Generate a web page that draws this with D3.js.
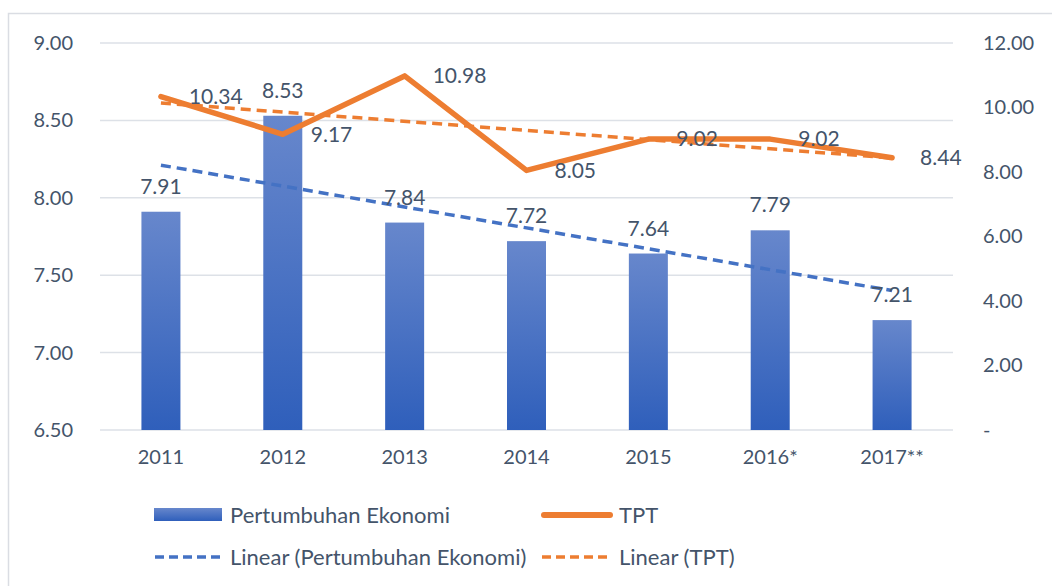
<!DOCTYPE html>
<html>
<head>
<meta charset="utf-8">
<script src="https://cdn.jsdelivr.net/npm/d3@7"></script>
<style>
  body { margin: 0; background: #fff; }
  text { font-family: Lato, "Open Sans", sans-serif; fill: #44546a; }
</style>
</head>
<body>
<div id="chart"></div>
<script>
// data
var years = ['2011', '2012', '2013', '2014', '2015', '2016*', '2017**'];
var ekonomi = [7.91, 8.53, 7.84, 7.72, 7.64, 7.79, 7.21];
var tpt = [10.34, 9.17, 10.98, 8.05, 9.02, 9.02, 8.44];
var leftTicks = [6.5, 7.0, 7.5, 8.0, 8.5, 9.0];
var rightTicks = [0, 2, 4, 6, 8, 10, 12];

var svgWidth = 1052;
var svgHeight = 586;
var margin = { top: 43, right: 99, bottom: 156, left: 100 };
var width = svgWidth - margin.left - margin.right;
var height = svgHeight - margin.top - margin.bottom;

var blue = '#4472c4';
var orange = '#ed7d31';

var svg = d3.select('#chart')
  .append('svg')
  .attr('width', svgWidth)
  .attr('height', svgHeight);

// chart area border
svg.append('rect')
  .attr('x', 8.5).attr('y', 13.5)
  .attr('width', svgWidth + 20).attr('height', svgHeight + 20)
  .attr('fill', 'none')
  .attr('stroke', '#dadde3')
  .attr('stroke-width', 1.5);

var defs = svg.append('defs');
var grad = defs.append('linearGradient')
  .attr('id', 'barGrad')
  .attr('x1', 0).attr('y1', 0).attr('x2', 0).attr('y2', 1);
grad.append('stop').attr('offset', '0%').attr('stop-color', '#6787cc');
grad.append('stop').attr('offset', '100%').attr('stop-color', '#2f5fbb');

var chartGroup = svg.append('g')
  .attr('transform', `translate(${margin.left}, ${margin.top})`);

var x = d3.scaleBand()
  .domain(years)
  .range([0, width]);

var yLeft = d3.scaleLinear()
  .domain([6.5, 9])
  .range([height, 0]);

var yRight = d3.scaleLinear()
  .domain([0, 12])
  .range([height, 0]);

// gridlines
chartGroup.append('g')
  .selectAll('line')
  .data(leftTicks)
  .enter()
  .append('line')
  .attr('x1', 0).attr('x2', width)
  .attr('y1', d => yLeft(d)).attr('y2', d => yLeft(d))
  .attr('stroke', '#dde1e7')
  .attr('stroke-width', 1.5);

// axes (lines hidden, Excel style)
var leftAxis = d3.axisLeft(yLeft).tickValues(leftTicks).tickSize(0).tickPadding(27)
  .tickFormat(d3.format('.2f'));
var rightAxis = d3.axisRight(yRight).tickValues(rightTicks).tickSize(0).tickPadding(30)
  .tickFormat(d => d === 0 ? '-' : d3.format('.2f')(d));
var bottomAxis = d3.axisBottom(x).tickSize(0).tickPadding(20);

var gl = chartGroup.append('g').call(leftAxis);
var gr = chartGroup.append('g').attr('transform', `translate(${width}, 0)`).call(rightAxis);
var gb = chartGroup.append('g').attr('transform', `translate(0, ${height})`).call(bottomAxis);
[gl, gr, gb].forEach(function(g) {
  g.select('.domain').remove();
  g.selectAll('text')
    .style('font-family', 'Lato, sans-serif')
    .style('font-size', '20px')
    .style('fill', '#44546a');
});

// bars
var barW = 39;
chartGroup.selectAll('.bar')
  .data(ekonomi)
  .enter()
  .append('rect')
  .attr('class', 'bar')
  .attr('x', (d, i) => x(years[i]) + x.bandwidth() / 2 - barW / 2)
  .attr('y', d => yLeft(d))
  .attr('width', barW)
  .attr('height', d => height - yLeft(d))
  .attr('fill', 'url(#barGrad)');

// linear trend (least squares, as Excel does)
function trend(vals) {
  var n = vals.length;
  var xs = d3.range(1, n + 1);
  var mx = d3.mean(xs), my = d3.mean(vals);
  var sxy = d3.sum(xs, (v, i) => (v - mx) * (vals[i] - my));
  var sxx = d3.sum(xs, v => (v - mx) * (v - mx));
  var b = sxy / sxx, a = my - b * mx;
  return [a + b * 1, a + b * n];
}
var cx = i => x(years[i]) + x.bandwidth() / 2;

var tE = trend(ekonomi);
chartGroup.append('line')
  .attr('x1', cx(0)).attr('x2', cx(years.length - 1))
  .attr('y1', yLeft(tE[0])).attr('y2', yLeft(tE[1]))
  .attr('stroke', blue)
  .attr('stroke-width', 3.5)
  .attr('stroke-dasharray', '10,6');

var tT = trend(tpt);
chartGroup.append('line')
  .attr('x1', cx(0)).attr('x2', cx(years.length - 1))
  .attr('y1', yRight(tT[0])).attr('y2', yRight(tT[1]))
  .attr('stroke', orange)
  .attr('stroke-width', 3.5)
  .attr('stroke-dasharray', '10,6');

// TPT line
var line = d3.line()
  .x((d, i) => cx(i))
  .y(d => yRight(d));
chartGroup.append('path')
  .datum(tpt)
  .attr('d', line)
  .attr('fill', 'none')
  .attr('stroke', orange)
  .attr('stroke-width', 5.5)
  .attr('stroke-linejoin', 'round')
  .attr('stroke-linecap', 'round');

// labels
chartGroup.selectAll('.barLabel')
  .data(ekonomi)
  .enter()
  .append('text')
  .attr('x', (d, i) => cx(i))
  .attr('y', d => yLeft(d) - 18)
  .attr('text-anchor', 'middle')
  .attr('font-size', '21px')
  .text(d => d3.format('.2f')(d));

chartGroup.selectAll('.tptLabel')
  .data(tpt)
  .enter()
  .append('text')
  .attr('x', (d, i) => cx(i) + 28)
  .attr('y', d => yRight(d))
  .attr('dy', '0.35em')
  .attr('font-size', '21px')
  .text(d => d3.format('.2f')(d));

// legend
var leg = svg.append('g');
leg.append('rect')
  .attr('x', 154).attr('y', 508).attr('width', 68).attr('height', 13)
  .attr('fill', 'url(#barGrad)');
leg.append('text').attr('x', 230).attr('y', 515).attr('dy', '0.35em')
  .attr('font-size', '22px').text('Pertumbuhan Ekonomi');
leg.append('line')
  .attr('x1', 544).attr('x2', 610).attr('y1', 515).attr('y2', 515)
  .attr('stroke', orange).attr('stroke-width', 6).attr('stroke-linecap', 'round');
leg.append('text').attr('x', 619).attr('y', 515).attr('dy', '0.35em')
  .attr('font-size', '22px').text('TPT');
leg.append('line')
  .attr('x1', 155).attr('x2', 222).attr('y1', 557).attr('y2', 557)
  .attr('stroke', blue).attr('stroke-width', 3.5).attr('stroke-dasharray', '9,5');
leg.append('text').attr('x', 230).attr('y', 557).attr('dy', '0.35em')
  .attr('font-size', '22px').text('Linear (Pertumbuhan Ekonomi)');
leg.append('line')
  .attr('x1', 542).attr('x2', 612).attr('y1', 557).attr('y2', 557)
  .attr('stroke', orange).attr('stroke-width', 3.5).attr('stroke-dasharray', '9,5');
leg.append('text').attr('x', 619).attr('y', 557).attr('dy', '0.35em')
  .attr('font-size', '22px').text('Linear (TPT)');
</script>
</body>
</html>
